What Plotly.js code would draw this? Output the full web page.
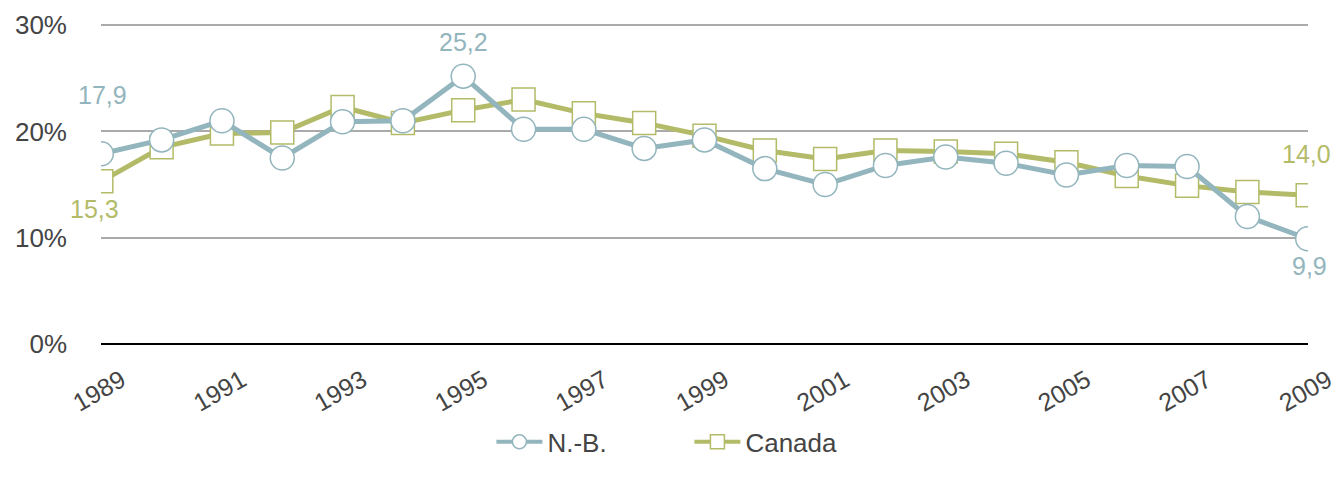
<!DOCTYPE html>
<html>
<head>
<meta charset="utf-8">
<script src="https://cdn.plot.ly/plotly-3.0.1.min.js"></script>
<style>html,body{margin:0;padding:0;background:#fff;}#chart{width:1339px;height:482px;}</style>
</head>
<body>
<div id="chart"></div>
<script>
const years = [1989,1990,1991,1992,1993,1994,1995,1996,1997,1998,1999,2000,2001,2002,2003,2004,2005,2006,2007,2008,2009];
const nbValues = [17.9,19.2,21.0,17.5,20.9,21.0,25.2,20.2,20.2,18.4,19.2,16.5,15.0,16.8,17.6,17.0,15.9,16.8,16.7,12.0,9.9];
const canadaValues = [15.3,18.5,19.8,19.9,22.3,20.8,22.0,23.0,21.7,20.8,19.6,18.2,17.4,18.2,18.1,17.9,17.1,15.8,14.9,14.3,14.0];
const seriesNames = ['N.-B.', 'Canada'];
const tickYears = [1989,1991,1993,1995,1997,1999,2001,2003,2005,2007,2009];
const yTicks = [0,10,20,30];
const yTickLabels = ['0%','10%','20%','30%'];

const nbColor = '#93b5bd';
const caColor = '#b3bb68';
const font = 'Liberation Sans, Arial, sans-serif';
const fmt = v => v.toFixed(1).replace('.', ',');

const data = [
  {x: years, y: canadaValues, name: seriesNames[1], mode: 'lines+markers', type: 'scatter', showlegend: false,
   line: {color: caColor, width: 5},
   marker: {symbol: 'square', size: 23, color: '#ffffff', line: {color: caColor, width: 1.5}}},
  {x: years, y: nbValues, name: seriesNames[0], mode: 'lines+markers', type: 'scatter', showlegend: false,
   line: {color: nbColor, width: 5},
   marker: {symbol: 'circle', size: 24, color: '#ffffff', line: {color: nbColor, width: 1.5}}},
  // legend entries
  {x: [null], y: [null], name: seriesNames[0], mode: 'lines+markers', type: 'scatter', legendrank: 1,
   line: {color: nbColor, width: 4},
   marker: {symbol: 'circle', size: 14, color: '#ffffff', line: {color: nbColor, width: 1.5}}},
  {x: [null], y: [null], name: seriesNames[1], mode: 'lines+markers', type: 'scatter', legendrank: 2,
   line: {color: caColor, width: 4},
   marker: {symbol: 'square', size: 14, color: '#ffffff', line: {color: caColor, width: 1.5}}}
];

const last = years.length - 1;
const iMax = nbValues.indexOf(Math.max(...nbValues));
const annFont = c => ({family: font, size: 25, color: c});
const annotations = [
  {x: years[0], y: nbValues[0], text: fmt(nbValues[0]), showarrow: false, xshift: 1, yshift: 59, font: annFont(nbColor)},
  {x: years[0], y: canadaValues[0], text: fmt(canadaValues[0]), showarrow: false, xshift: -7, yshift: -28, font: annFont(caColor)},
  {x: years[iMax], y: nbValues[iMax], text: fmt(nbValues[iMax]), showarrow: false, xshift: 0, yshift: 34, font: annFont(nbColor)},
  {x: years[last], y: canadaValues[last], text: fmt(canadaValues[last]), showarrow: false, xshift: -1, yshift: 41, font: annFont(caColor)},
  {x: years[last], y: nbValues[last], text: fmt(nbValues[last]), showarrow: false, xshift: 2, yshift: -27, font: annFont(nbColor)}
];

const layout = {
  width: 1339, height: 482,
  margin: {l: 101, r: 31, t: 23, b: 138},
  paper_bgcolor: '#fff', plot_bgcolor: '#fff',
  separators: ', ',
  showlegend: true,
  font: {family: font, size: 24, color: '#444'},
  xaxis: {
    range: [1988.995, 2009.005], tickvals: tickYears, ticktext: tickYears.map(String),
    tickangle: -30, showgrid: false, zeroline: false, showline: false, ticks: '',
    tickfont: {family: font, size: 25, color: '#444'},
    ticklabelshift: 20, ticklabelstandoff: 16, ticklabeloverflow: 'allow', fixedrange: true
  },
  yaxis: {
    range: [0, 30.2], tickvals: yTicks, ticktext: yTickLabels,
    showgrid: true, gridcolor: '#aaaaaa', gridwidth: 2,
    zeroline: true, zerolinecolor: '#000000', zerolinewidth: 2.5,
    showline: false, ticks: '', ticklabelstandoff: 33,
    tickfont: {family: font, size: 26, color: '#444'}, fixedrange: true
  },
  legend: {
    orientation: 'h', x: 0.4875, xanchor: 'center', y: -0.305, yanchor: 'middle',
    font: {family: font, size: 26, color: '#444'},
    traceorder: 'normal', entrywidth: 137, entrywidthmode: 'pixels', itemwidth: 46
  },
  annotations: annotations
};

Plotly.newPlot('chart', data, layout, {displayModeBar: false, staticPlot: true});
</script>
</body>
</html>
